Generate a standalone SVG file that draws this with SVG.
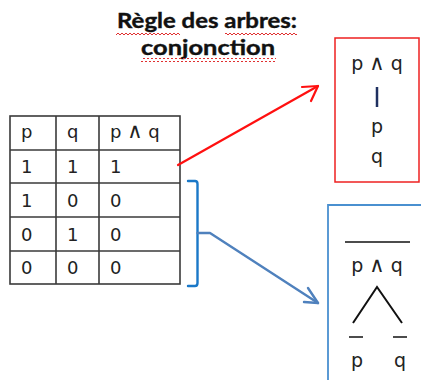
<svg xmlns="http://www.w3.org/2000/svg" width="421" height="380" viewBox="0 0 421 380">
  <style>
    .title { font-family: Lato, "Liberation Sans", sans-serif; font-weight: bold; font-size: 21px; fill: #111; text-anchor: middle; }
    .cell { font-family: "DejaVu Sans", Verdana, sans-serif; font-size: 18px; fill: #222; }
    .lbl { font-family: "DejaVu Sans", Verdana, sans-serif; font-size: 19px; fill: #222; text-anchor: middle; }
    .and { font-size: 21px; font-weight: normal; }
    .grid { stroke: #3a3a3a; stroke-width: 1.6; fill: none; }
    .tree { stroke: #111; stroke-width: 2; fill: none; }
  </style>
  <defs>
    <!-- wavy spell-check underline -->
    <pattern id="wave" width="4" height="4" patternUnits="userSpaceOnUse">
      <path d="M0 3 L2 1 L4 3" stroke="#e03030" stroke-width="1" fill="none"/>
    </pattern>
  </defs>
  <rect width="421" height="380" fill="#ffffff"/>

  <!-- heading -->
  <g id="title">
    <text class="title" x="207" y="28" textLength="180" lengthAdjust="spacingAndGlyphs" stroke="#111" stroke-width="0.4">Règle des arbres:</text>
    <text class="title" x="208" y="55" textLength="134" lengthAdjust="spacingAndGlyphs" stroke="#111" stroke-width="0.4">conjonction</text>
    <rect x="116" y="31" width="64" height="4" fill="url(#wave)"/>
    <rect x="225" y="31" width="72" height="4" fill="url(#wave)"/>
    <rect x="141" y="58" width="135" height="4" fill="url(#wave)"/>
  </g>

  <!-- truth table -->
  <g id="table">
    <rect class="grid" x="10" y="116" width="170" height="168"/>
    <line class="grid" x1="56" y1="116" x2="56" y2="284"/>
    <line class="grid" x1="99" y1="116" x2="99" y2="284"/>
    <line class="grid" x1="10" y1="150" x2="180" y2="150"/>
    <line class="grid" x1="10" y1="183" x2="180" y2="183"/>
    <line class="grid" x1="10" y1="217" x2="180" y2="217"/>
    <line class="grid" x1="10" y1="251" x2="180" y2="251"/>
    <text class="cell" x="21" y="138">p</text>
    <text class="cell" x="67" y="138">q</text>
    <text class="cell" x="110" y="138">p <tspan class="and">∧</tspan> q</text>
    <text class="cell" x="21" y="173">1</text>
    <text class="cell" x="67" y="173">1</text>
    <text class="cell" x="110" y="173">1</text>
    <text class="cell" x="21" y="207">1</text>
    <text class="cell" x="67" y="207">0</text>
    <text class="cell" x="110" y="207">0</text>
    <text class="cell" x="21" y="241">0</text>
    <text class="cell" x="67" y="241">1</text>
    <text class="cell" x="110" y="241">0</text>
    <text class="cell" x="21" y="274">0</text>
    <text class="cell" x="67" y="274">0</text>
    <text class="cell" x="110" y="274">0</text>
  </g>

  <!-- true case: linear branch -->
  <g id="true-box">
    <rect x="335" y="38" width="84" height="144" fill="none" stroke="#ee2020" stroke-width="1.5"/>
    <text class="lbl" x="377" y="70">p <tspan class="and">∧</tspan> q</text>
    <line x1="377" y1="87" x2="377" y2="107" stroke="#1f3060" stroke-width="2.5"/>
    <text class="lbl" x="377" y="133">p</text>
    <text class="lbl" x="377" y="163">q</text>
  </g>

  <!-- false case: split branch -->
  <g id="false-box">
    <path d="M421 205 H328 V380" fill="none" stroke="#4a90d0" stroke-width="1.8"/>
    <line x1="345" y1="242" x2="410" y2="242" stroke="#111" stroke-width="1.5"/>
    <text class="lbl" x="377" y="272">p <tspan class="and">∧</tspan> q</text>
    <path class="tree" d="M353 323 L377 287 L402 323"/>
    <line x1="349" y1="337" x2="363" y2="337" stroke="#111" stroke-width="1.5"/>
    <line x1="393" y1="337" x2="407" y2="337" stroke="#111" stroke-width="1.5"/>
    <text class="lbl" x="357" y="367">p</text>
    <text class="lbl" x="400" y="367">q</text>
  </g>

  <!-- connectors -->
  <g id="connectors" fill="none" stroke-linecap="round" stroke-linejoin="round">
    <path d="M178 165 L318 86" stroke="#ff1010" stroke-width="2.2"/>
    <path d="M302 87 L318 86 L311 101" stroke="#ff1010" stroke-width="2.2"/>
    <path d="M188 181 H195 Q197.5 181 197.5 184 V283 Q197.5 286 195 286 H188" stroke="#1a78c8" stroke-width="2.4"/>
    <path d="M197.5 233 H210 L318 303" stroke="#4f81bd" stroke-width="2.4"/>
    <path d="M308 288 L318 303 L304 302" stroke="#4f81bd" stroke-width="2.4"/>
  </g>
</svg>
